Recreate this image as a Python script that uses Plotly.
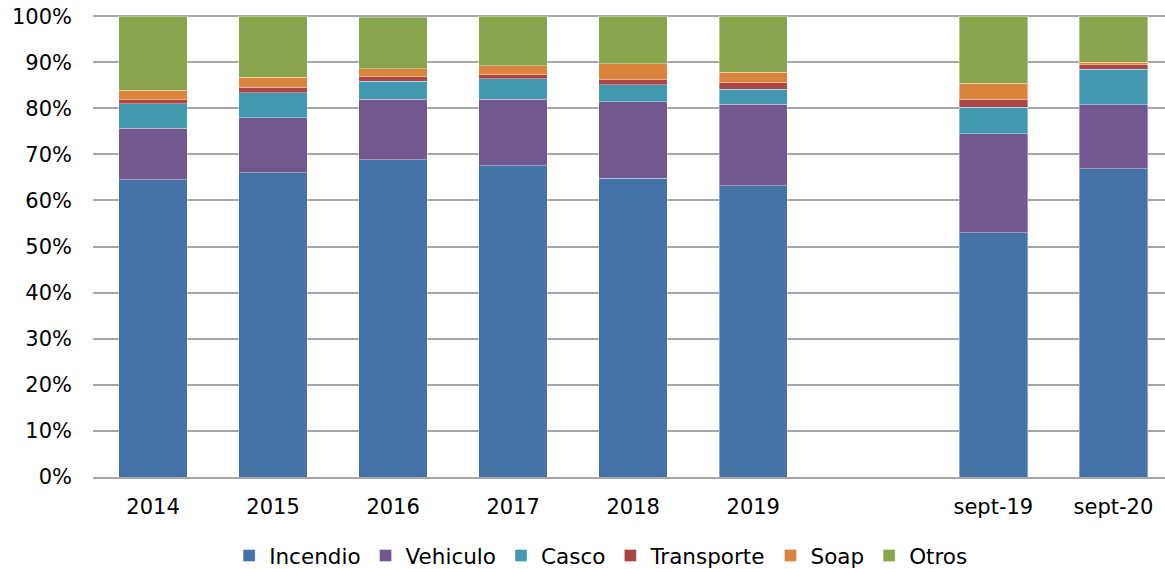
import plotly.graph_objects as go

# categories (the blank one keeps the gap between 2019 and sept-19)
CATEGORIES = ["2014", "2015", "2016", "2017", "2018", "2019", " ", "sept-19", "sept-20"]

# share of each line of business, in %
INCENDIO = [64.5, 66.0, 68.8, 67.5, 64.8, 63.2, None, 53.0, 66.9]
VEHICULO = [11.2, 12.0, 13.2, 14.5, 16.6, 17.7, None, 21.5, 13.9]
CASCO = [5.3, 5.4, 3.9, 4.4, 3.7, 3.2, None, 5.7, 7.7]
TRANSPORTE = [0.9, 1.2, 0.9, 0.9, 1.1, 1.4, None, 1.8, 1.0]
SOAP = [2.0, 2.1, 1.8, 1.9, 3.5, 2.3, None, 3.4, 0.5]
OTROS = [16.1, 13.3, 11.2, 10.8, 10.3, 12.2, None, 14.6, 10.0]

Y_TICKS = [0, 10, 20, 30, 40, 50, 60, 70, 80, 90, 100]
Y_LABELS = ["0%", "10%", "20%", "30%", "40%", "50%", "60%", "70%", "80%", "90%", "100%"]

SERIES = [
    ("Incendio", INCENDIO, "#4572a7"),
    ("Vehiculo", VEHICULO, "#71588f"),
    ("Casco", CASCO, "#4198af"),
    ("Transporte", TRANSPORTE, "#aa4643"),
    ("Soap", SOAP, "#db843d"),
    ("Otros", OTROS, "#89a54e"),
]

FONT = "DejaVu Sans, Verdana, sans-serif"

fig = go.Figure()
for name, vals, color in SERIES:
    fig.add_trace(go.Bar(
        x=CATEGORIES, y=vals, name=name,
        marker=dict(color=color, line=dict(color="rgba(255,255,255,0.45)", width=0.8)),
    ))

fig.update_layout(
    barmode="stack",
    bargap=0.43,
    width=1165, height=569,
    margin=dict(l=93, r=0, t=15, b=92, autoexpand=False),
    paper_bgcolor="white", plot_bgcolor="white",
    font=dict(family=FONT, size=21, color="#000000"),
    legend=dict(
        orientation="h", x=0.474, xanchor="center",
        y=-0.17, yanchor="middle",
        font=dict(size=21.5), itemwidth=30,
        traceorder="normal",
    ),
)
fig.update_xaxes(
    type="category", range=[-0.5, 8.43], automargin=False,
    showgrid=False, showline=True, linecolor="#a6a6a6", linewidth=2,
    ticks="", ticklabelstandoff=10,
)
# a hair above 100 so the 100% gridline is not dropped at the plot edge
fig.update_yaxes(
    range=[0, 100.25], tickvals=Y_TICKS, ticktext=Y_LABELS, automargin=False,
    showgrid=True, gridcolor="#a6a6a6", gridwidth=2,
    zeroline=False, showline=False, ticks="", ticklabelstandoff=20,
)

# drop the browser's default 8px body margin so the figure fills the window
fig.write_html("out.html", config={"displayModeBar": False},
               post_script="document.body.style.margin = '0';")
